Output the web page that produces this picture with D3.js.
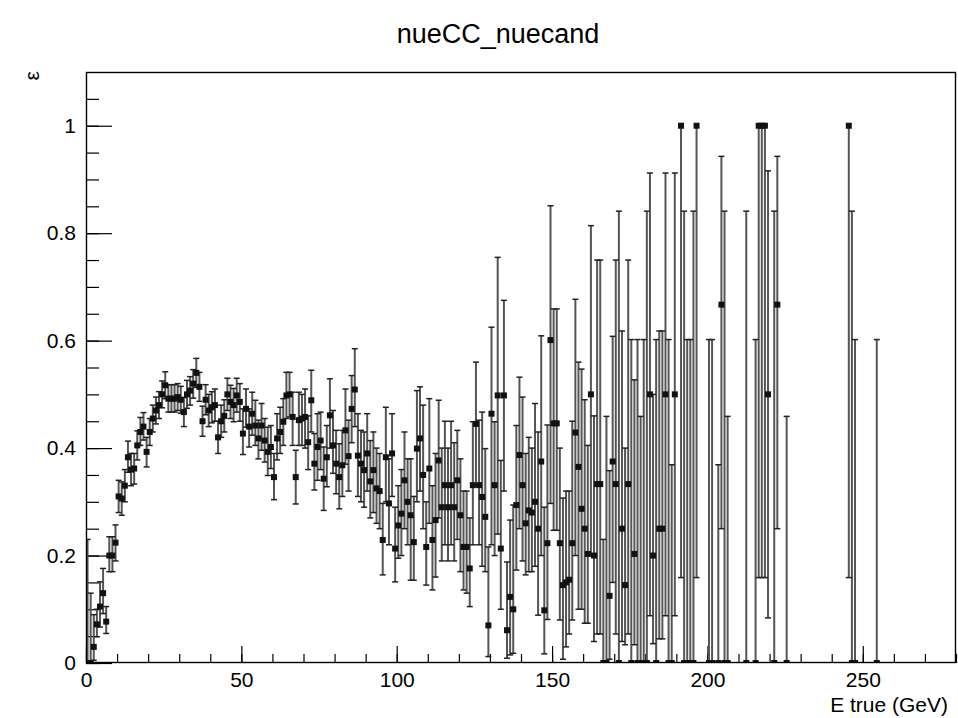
<!DOCTYPE html>
<html><head><meta charset="utf-8">
<script src="https://cdn.jsdelivr.net/npm/d3@7"></script>
<style>
body{margin:0;background:#fff}
svg{display:block}
text{font-family:"Liberation Sans",Arial,Helvetica,sans-serif;fill:#000}
</style>
</head><body>
<svg id="c" width="958" height="718"></svg>
<script>
// Bin centres (GeV) of the filled bins
const eTrue = [0.5,1.5,2.5,3.5,4.5,5.5,6.5,7.5,8.5,9.5,10.5,11.5,12.5,13.5,14.5,15.5,16.5,17.5,18.5,19.5,
20.5,21.5,22.5,23.5,24.5,25.5,26.5,27.5,28.5,29.5,30.5,31.5,32.5,33.5,34.5,35.5,36.5,37.5,38.5,39.5,
40.5,41.5,42.5,43.5,44.5,45.5,46.5,47.5,48.5,49.5,50.5,51.5,52.5,53.5,54.5,55.5,56.5,57.5,58.5,59.5,
60.5,61.5,62.5,63.5,64.5,65.5,66.5,67.5,68.5,69.5,70.5,71.5,72.5,73.5,74.5,75.5,76.5,77.5,78.5,79.5,
80.5,81.5,82.5,83.5,84.5,85.5,86.5,87.5,88.5,89.5,90.5,91.5,92.5,93.5,94.5,95.5,96.5,97.5,98.5,99.5,
100.5,101.5,102.5,103.5,104.5,105.5,106.5,107.5,108.5,109.5,110.5,111.5,112.5,113.5,114.5,115.5,116.5,117.5,118.5,119.5,
120.5,121.5,122.5,123.5,124.5,125.5,126.5,127.5,128.5,129.5,130.5,131.5,132.5,133.5,134.5,135.5,136.5,137.5,138.5,139.5,
140.5,141.5,142.5,143.5,144.5,145.5,146.5,147.5,148.5,149.5,150.5,151.5,152.5,153.5,154.5,155.5,156.5,157.5,158.5,159.5,
160.5,161.5,162.5,163.5,164.5,165.5,166.5,167.5,168.5,169.5,170.5,171.5,172.5,173.5,174.5,175.5,176.5,177.5,178.5,179.5,
180.5,181.5,182.5,183.5,184.5,185.5,186.5,187.5,188.5,189.5,
191.5,192.5,193.5,194.5,195.5,196.5,200.5,201.5,203.5,204.5,205.5,206.5,212.5,215.5,216.5,217.5,218.5,219.5,221.5,222.5,225.5,
245.5,246.5,247.5,254.5];

// Efficiency per bin
const eff = [0,0,0.03,0.072,0.105,0.13,0.077,0.2,0.2,0.224,
0.31,0.306,0.33,0.383,0.36,0.362,0.405,0.43,0.44,0.393,
0.43,0.455,0.47,0.48,0.5,0.517,0.492,0.492,0.492,0.495,
0.49,0.467,0.5,0.507,0.52,0.54,0.514,0.45,0.49,0.47,
0.476,0.48,0.42,0.45,0.46,0.5,0.486,0.48,0.498,0.486,
0.427,0.473,0.44,0.464,0.442,0.418,0.442,0.414,0.393,0.402,
0.346,0.418,0.43,0.449,0.498,0.5,0.458,0.346,0.452,0.455,
0.458,0.411,0.489,0.371,0.402,0.414,0.343,0.383,0.461,0.405,
0.371,0.346,0.368,0.433,0.385,0.473,0.509,0.386,0.371,0.359,
0.39,0.338,0.359,0.325,0.32,0.229,0.383,0.297,0.39,0.213,
0.256,0.278,0.34,0.3,0.275,0.225,0.399,0.418,0.35,0.216,
0.362,0.229,0.266,0.377,0.29,0.331,0.29,0.331,0.29,0.34,
0.275,0.216,0.216,0.176,0.331,0.445,0.331,0.309,0.272,0.07,
0.464,0.331,0.498,0.213,0.498,0.061,0.123,0.1,0.294,0.387,
0.331,0.26,0.284,0.28,0.3,0.25,0.375,0.098,0.223,0.601,
0.446,0.446,0.223,0.145,0.15,0.155,0.223,0.429,0.365,0.287,
0.25,0.203,0.5,0.2,0.333,0.333,0,0,0.125,0.375,
0.333,0,0.25,0.145,0.333,0,0.203,0,0,0,
0,0.5,0.2,0,0.25,0.25,0.5,0,0,0.5,
1,0,0,0,0,1,0,0,0,0.667,0,0,0,0,1,1,1,0.5,0,0.667,0,
1,0,0,0];

// Lower edge of the error bar
const effLow = [0,0,0.005,0.049,0.067,0.092,0.055,0.17,0.17,0.19,
0.28,0.275,0.3,0.355,0.33,0.333,0.378,0.405,0.415,0.365,
0.405,0.43,0.445,0.455,0.475,0.492,0.467,0.467,0.467,0.47,
0.465,0.44,0.474,0.48,0.493,0.513,0.487,0.422,0.462,0.44,
0.447,0.45,0.39,0.42,0.43,0.47,0.455,0.449,0.467,0.45,
0.388,0.439,0.402,0.424,0.405,0.38,0.396,0.374,0.349,0.362,
0.304,0.378,0.39,0.405,0.455,0.458,0.405,0.296,0.405,0.405,
0.4,0.36,0.43,0.322,0.34,0.36,0.284,0.328,0.4,0.353,
0.315,0.287,0.31,0.37,0.32,0.41,0.44,0.31,0.3,0.29,
0.32,0.27,0.28,0.26,0.25,0.164,0.3,0.22,0.31,0.151,
0.195,0.2,0.25,0.22,0.154,0.154,0.3,0.32,0.25,0.145,
0.26,0.136,0.16,0.27,0.19,0.22,0.19,0.22,0.19,0.23,
0.17,0.136,0.13,0.105,0.22,0.33,0.22,0.18,0.17,0.012,
0.22,0.2,0.24,0.1,0.32,0.009,0.015,0.018,0.173,0.25,
0.19,0.164,0.17,0.17,0.18,0.089,0.2,0.017,0.081,0.297,
0.247,0.247,0.08,0.007,0.03,0.054,0.08,0.2,0.1,0.1,
0.074,0.074,0.2,0.04,0.054,0.054,0,0,0.007,0.15,
0.054,0,0.04,0.034,0.054,0,0.034,0,0,0,
0,0.088,0.036,0,0.045,0.045,0.088,0,0,0.088,
0.159,0,0,0,0,0.159,0,0,0,0.25,0,0,0,0,0.159,0.159,0.159,0.084,0,0.25,0,
0.159,0,0,0];

// Upper edge of the error bar
const effHigh = [0.23,0.13,0.09,0.1,0.151,0.176,0.105,0.235,0.235,0.257,
0.34,0.337,0.36,0.413,0.39,0.39,0.432,0.457,0.466,0.42,
0.455,0.48,0.495,0.505,0.525,0.542,0.518,0.518,0.518,0.52,
0.515,0.494,0.526,0.533,0.546,0.567,0.541,0.478,0.518,0.5,
0.505,0.51,0.45,0.48,0.49,0.53,0.517,0.511,0.53,0.52,
0.473,0.51,0.473,0.504,0.489,0.452,0.483,0.455,0.439,0.442,
0.39,0.464,0.476,0.492,0.541,0.541,0.504,0.396,0.504,0.5,
0.51,0.46,0.545,0.427,0.464,0.467,0.402,0.442,0.529,0.47,
0.433,0.408,0.433,0.51,0.452,0.535,0.585,0.464,0.433,0.43,
0.464,0.414,0.43,0.4,0.39,0.297,0.476,0.38,0.464,0.29,
0.33,0.36,0.43,0.38,0.38,0.31,0.507,0.514,0.48,0.3,
0.492,0.33,0.39,0.489,0.4,0.45,0.4,0.45,0.41,0.433,
0.38,0.32,0.32,0.27,0.449,0.56,0.452,0.467,0.399,0.216,
0.625,0.449,0.755,0.377,0.675,0.188,0.266,0.294,0.442,0.532,
0.495,0.39,0.42,0.4,0.483,0.43,0.609,0.29,0.443,0.851,
0.659,0.659,0.4,0.307,0.32,0.32,0.45,0.677,0.56,0.547,
0.49,0.405,0.814,0.46,0.75,0.75,0.23,0.459,0.358,0.608,
0.75,0.841,0.618,0.4,0.75,0.602,0.527,0.602,0.459,0.602,
0.841,0.912,0.5,0.602,0.618,0.618,0.912,0.602,0.369,0.912,
1,0.841,0.602,0.602,0.841,1,0.602,0.602,0.369,0.943,0.841,0.459,0.841,0.602,1,1,1,0.916,0.841,0.943,0.459,
1,0.841,0.602,0.602];

const xMajor = [0,50,100,150,200,250];
const xMinor = [0,10,20,30,40,50,60,70,80,90,100,110,120,130,140,150,160,170,180,190,200,210,220,230,240,250,260,270,280];
const yMajor = [0,0.2,0.4,0.6,0.8,1];
const yMinor = [0,0.05,0.1,0.15,0.2,0.25,0.3,0.35,0.4,0.45,0.5,0.55,0.6,0.65,0.7,0.75,0.8,0.85,0.9,0.95,1,1.05];
const titleText = "nueCC_nuecand";
const xTitle = "E true (GeV)";
const yTitle = "\u03b5";

const svg = d3.select("#c");
const L = 86, R = 956, T = 72, B = 663;
const x = d3.scaleLinear().domain([0, 280]).range([L, R]);
const y = d3.scaleLinear().domain([0, 1.1]).range([B, T]);

svg.append("rect").attr("width",958).attr("height",718).attr("fill","#fff");

svg.append("defs").append("clipPath").attr("id","fr")
  .append("rect").attr("x",L).attr("y",T).attr("width",R-L).attr("height",B-T);

const data = eTrue.map((e,i)=>({e, v:eff[i], lo:effLow[i], hi:effHigh[i]}));

// axes (ticks inside the frame)
const fs = 21;
const gxMinor = svg.append("g").attr("transform",`translate(0,${B})`)
  .call(d3.axisBottom(x).tickValues(xMinor).tickSize(-9).tickFormat(""));
const gxMajor = svg.append("g").attr("transform",`translate(0,${B})`)
  .call(d3.axisBottom(x).tickValues(xMajor).tickSize(-17).tickPadding(9).tickFormat(d3.format("d")));
const gyMinor = svg.append("g").attr("transform",`translate(${L},0)`)
  .call(d3.axisLeft(y).tickValues(yMinor).tickSize(-13).tickFormat(""));
const gyMajor = svg.append("g").attr("transform",`translate(${L},0)`)
  .call(d3.axisLeft(y).tickValues(yMajor).tickSize(-26).tickPadding(10).tickFormat(d3.format("~g")));
[gxMinor,gxMajor,gyMinor,gyMajor].forEach(g=>{
  g.select(".domain").remove();
  g.selectAll("line").attr("stroke","#000").attr("stroke-width",1.2);
  g.selectAll("text").attr("font-size",fs).attr("font-family",'"Liberation Sans",Arial,sans-serif').attr("fill","#222");
});

// data
const lw = 2, lc = "#555";
const gd = svg.append("g").attr("clip-path","url(#fr)");
gd.selectAll("line.bar").data(data).join("line").attr("class","bar")
  .attr("x1",d=>x(d.e)).attr("x2",d=>x(d.e))
  .attr("y1",d=>y(d.lo)).attr("y2",d=>y(d.hi))
  .attr("stroke",lc).attr("stroke-width",lw);
const cw = 3;
gd.selectAll("line.capH").data(data.filter(d=>d.hi>d.v)).join("line").attr("class","capH")
  .attr("x1",d=>x(d.e)-cw).attr("x2",d=>x(d.e)+cw)
  .attr("y1",d=>y(d.hi)).attr("y2",d=>y(d.hi))
  .attr("stroke","#222").attr("stroke-width",1.5);
gd.selectAll("line.capL").data(data.filter(d=>d.lo<d.v)).join("line").attr("class","capL")
  .attr("x1",d=>x(d.e)-cw).attr("x2",d=>x(d.e)+cw)
  .attr("y1",d=>y(d.lo)).attr("y2",d=>y(d.lo))
  .attr("stroke","#222").attr("stroke-width",1.5);
const ms = 6;
gd.selectAll("rect.mk").data(data).join("rect").attr("class","mk")
  .attr("x",d=>x(d.e)-ms/2).attr("y",d=>y(d.v)-ms/2)
  .attr("width",ms).attr("height",ms).attr("fill","#111");

// frame
svg.append("rect").attr("x",L+0.5).attr("y",T+0.5).attr("width",R-L-1).attr("height",B-T-1)
  .attr("fill","none").attr("stroke","#000").attr("stroke-width",1.4);

// titles
svg.append("text").attr("x",498).attr("y",43).attr("text-anchor","middle")
  .attr("font-size",27).attr("fill","#111").text(titleText);
svg.append("text").attr("x",948).attr("y",712).attr("text-anchor","end")
  .attr("font-size",fs).attr("fill","#222").text(xTitle);
svg.append("text").attr("transform","translate(39,71) rotate(-90)").attr("text-anchor","end")
  .attr("font-size",fs).attr("fill","#222").text(yTitle);
</script>
</body></html>
